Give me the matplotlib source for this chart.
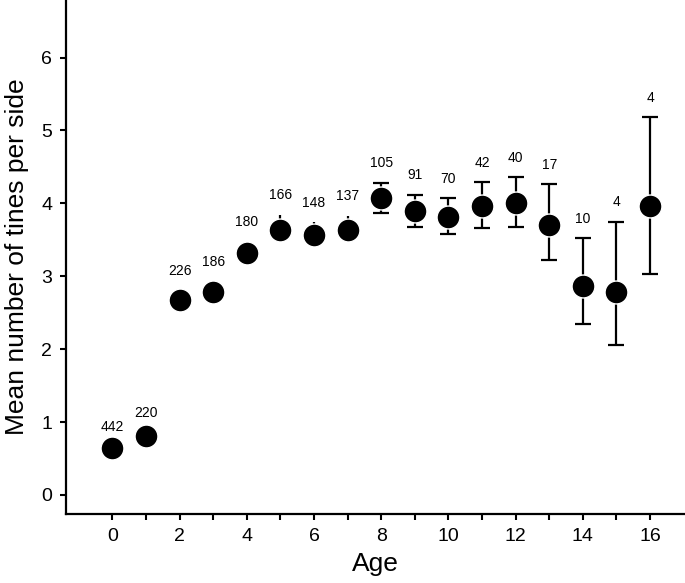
import matplotlib
matplotlib.use('Agg')
import matplotlib.pyplot as plt
import numpy as np

plt.rcParams['font.family'] = ['Liberation Sans', 'DejaVu Sans']

# Data
ages = [0, 1, 2, 3, 4, 5, 6, 7, 8, 9, 10, 11, 12, 13, 14, 15, 16]
mean_tines = [0.64, 0.81, 2.68, 2.79, 3.32, 3.64, 3.56, 3.64, 4.07, 3.89,
              3.81, 3.96, 4.01, 3.71, 2.87, 2.78, 3.96]
lower = [0.61, 0.76, 2.56, 2.65, 3.17, 3.48, 3.40, 3.47, 3.87, 3.68,
         3.58, 3.66, 3.68, 3.23, 2.34, 2.06, 3.03]
upper = [0.67, 0.86, 2.80, 2.93, 3.47, 3.84, 3.74, 3.83, 4.28, 4.12,
         4.07, 4.29, 4.36, 4.26, 3.52, 3.75, 5.18]
n_obs = [442, 220, 226, 186, 180, 166, 148, 137, 105, 91, 70, 42, 40, 17, 10, 4, 4]

x = np.array(ages)
y = np.array(mean_tines)
yerr = np.vstack([y - np.array(lower), np.array(upper) - y])

fig = plt.figure(figsize=(6.85, 5.83), dpi=100)
ax = fig.add_axes([0.0964, 0.1185, 0.9036, 0.8815])

# caps only where the interval reaches well beyond the marker (age >= 8)
split = 8
ax.errorbar(x[:split], y[:split], yerr=yerr[:, :split], fmt='none',
            ecolor='black', elinewidth=1.6, capsize=0, zorder=2)
ax.errorbar(x[split:], y[split:], yerr=yerr[:, split:], fmt='none',
            ecolor='black', elinewidth=1.6, capsize=5.8, capthick=1.6, zorder=2)
ax.plot(x, y, 'o', color='black', markersize=16.5, markeredgecolor='white',
        markeredgewidth=1.0, zorder=3)

for xi, up, n in zip(ages, upper, n_obs):
    ax.annotate(str(n), (xi, up), xytext=(0, 11.2), textcoords='offset points',
                ha='center', va='baseline', fontsize=10)

ax.set_xlim(-1.38, 17.04)
ax.set_ylim(-0.26, 6.79)
ax.set_xticks(range(0, 17))
ax.set_xticklabels([str(a) if a % 2 == 0 else '' for a in range(0, 17)])
ax.set_yticks(range(0, 7))

for side in ['top', 'right']:
    ax.spines[side].set_visible(False)
for side in ['left', 'bottom']:
    ax.spines[side].set_linewidth(1.6)
ax.tick_params(direction='out', length=4, width=1.5, labelsize=14, pad=6)

ax.set_xlabel('Age', fontsize=19, labelpad=5)
ax.set_ylabel('Mean number of tines per side', fontsize=19, labelpad=9)

fig.savefig('out.png', dpi=100)
